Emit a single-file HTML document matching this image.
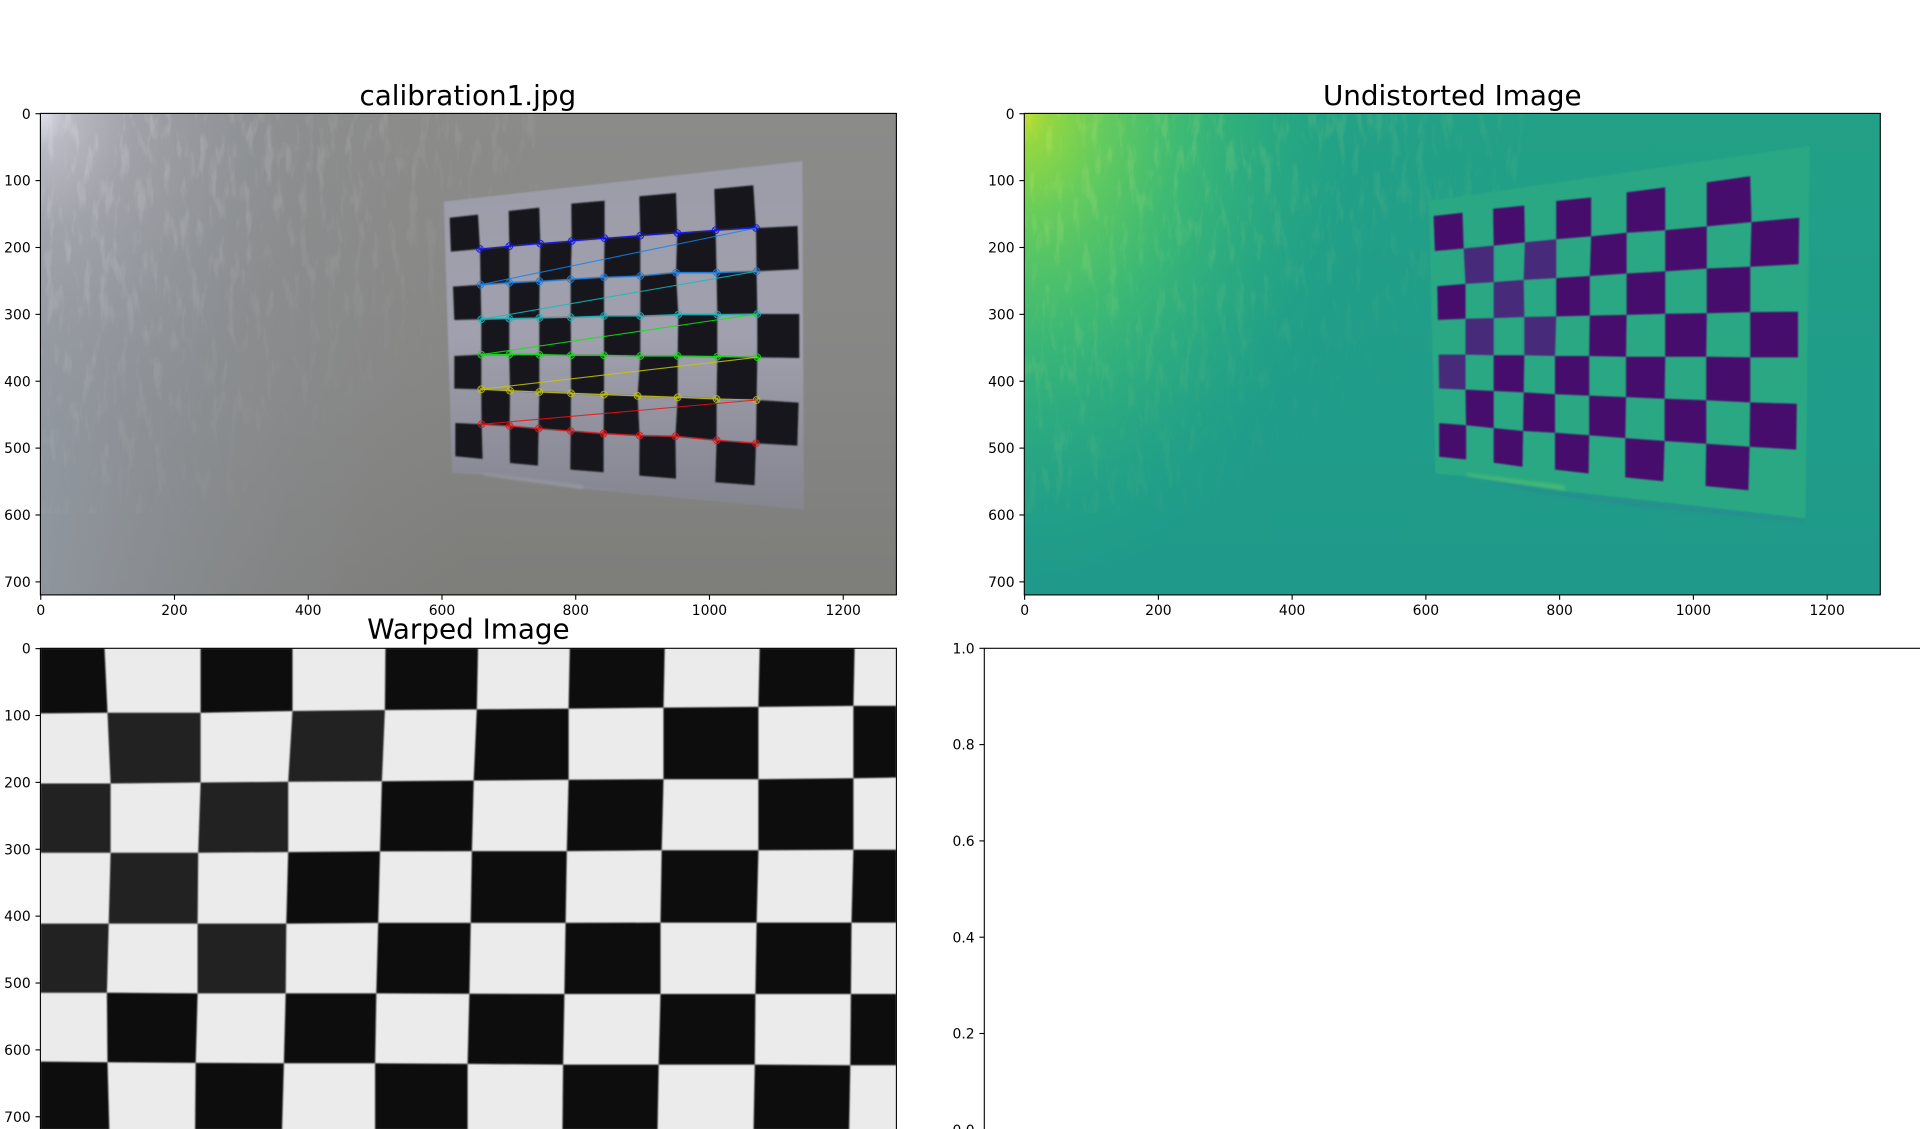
<!DOCTYPE html>
<html lang="en">
<head>
<meta charset="utf-8">
<title>Calibration figure</title>
<style>
html,body{margin:0;padding:0;background:#fff;width:1920px;height:1129px;overflow:hidden}
svg{display:block}
text{font-family:"DejaVu Sans","Liberation Sans",sans-serif;fill:#000}
.tick{font-size:13.9px}
.title{font-size:27.8px;text-anchor:middle}
</style>
</head>
<body>
<svg id="fig" xmlns="http://www.w3.org/2000/svg" width="1920" height="1129" viewBox="0 0 1920 1129">
<defs>
  <clipPath id="clip1"><rect x="40.4" y="113.4" width="856" height="481.5"/></clipPath>
  <clipPath id="clip2"><rect x="1024.3" y="113.4" width="856" height="481.5"/></clipPath>
  <clipPath id="clip3"><rect x="40.4" y="648.3" width="856" height="481.5"/></clipPath>
  <filter id="soft" x="-5%" y="-5%" width="110%" height="110%"><feGaussianBlur stdDeviation="0.8"/></filter>
  <filter id="softer" x="-10%" y="-30%" width="120%" height="160%"><feGaussianBlur stdDeviation="1.6"/></filter>
  <filter id="streaks" x="0" y="0" width="100%" height="100%">
    <feTurbulence type="fractalNoise" baseFrequency="0.11 0.028" numOctaves="3" seed="7"/>
    <feColorMatrix type="matrix" values="0 0 0 0 1  0 0 0 0 1  0 0 0 0 1  4 0 0 0 -2.05"/>
  </filter>
  <filter id="streaks2" x="0" y="0" width="100%" height="100%">
    <feTurbulence type="fractalNoise" baseFrequency="0.11 0.028" numOctaves="3" seed="7"/>
    <feColorMatrix type="matrix" values="0 0 0 0 0.8  0 0 0 0 0.9  0 0 0 0 0.25  4 0 0 0 -2.05"/>
  </filter>
  <radialGradient id="wallGlow1" gradientUnits="userSpaceOnUse" cx="40" cy="113" r="1" gradientTransform="translate(40 113) scale(270 340) translate(-40 -113)">
    <stop offset="0" stop-color="#e2e2ec" stop-opacity="1"/>
    <stop offset="0.1" stop-color="#bcbcc6" stop-opacity="0.95"/>
    <stop offset="0.35" stop-color="#a4a5ac" stop-opacity="0.8"/>
    <stop offset="1" stop-color="#8f9298" stop-opacity="0"/>
  </radialGradient>
  <linearGradient id="wallBase1" x1="0" y1="0" x2="0" y2="1">
    <stop offset="0" stop-color="#8b8b8a"/>
    <stop offset="0.55" stop-color="#868685"/>
    <stop offset="1" stop-color="#7d7d7a"/>
  </linearGradient>
  <linearGradient id="wallLeft1" x1="0" y1="0" x2="1" y2="0">
    <stop offset="0" stop-color="#97a0ad" stop-opacity="0.7"/>
    <stop offset="0.28" stop-color="#8f959c" stop-opacity="0.3"/>
    <stop offset="0.5" stop-color="#8e8e8c" stop-opacity="0"/>
  </linearGradient>
  <linearGradient id="paper1" x1="0" y1="0" x2="0" y2="1">
    <stop offset="0" stop-color="#9c9ca9"/>
    <stop offset="0.5" stop-color="#a0a0ae"/>
    <stop offset="1" stop-color="#858590"/>
  </linearGradient>
  <radialGradient id="wallGlow2" gradientUnits="userSpaceOnUse" cx="1024" cy="113" r="1" gradientTransform="translate(1024 113) scale(340 470) translate(-1024 -113)">
    <stop offset="0" stop-color="#bcdf2c"/>
    <stop offset="0.07" stop-color="#93d741"/>
    <stop offset="0.22" stop-color="#67cc5c"/>
    <stop offset="0.48" stop-color="#40bd72" stop-opacity="0.85"/>
    <stop offset="1" stop-color="#22a884" stop-opacity="0"/>
  </radialGradient>
  <linearGradient id="wallBase2" x1="0" y1="0" x2="0" y2="1">
    <stop offset="0" stop-color="#23a186"/>
    <stop offset="0.6" stop-color="#209c8a"/>
    <stop offset="1" stop-color="#1f9a8a"/>
  </linearGradient>
  <linearGradient id="fadeTL" x1="0" y1="0" x2="1" y2="1">
    <stop offset="0" stop-color="#fff" stop-opacity="0.9"/>
    <stop offset="0.4" stop-color="#fff" stop-opacity="0.4"/>
    <stop offset="0.75" stop-color="#fff" stop-opacity="0"/>
  </linearGradient>
  <mask id="maskStreak1"><rect x="40.4" y="113.4" width="500" height="400" fill="url(#fadeTL)"/></mask>
  <mask id="maskStreak2"><rect x="1024.3" y="113.4" width="500" height="400" fill="url(#fadeTL)"/></mask>
</defs>
<rect x="0" y="0" width="1920" height="1129" fill="#fff"/>

<g>
  <g clip-path="url(#clip1)">
    <rect x="40.4" y="113.4" width="856" height="482" fill="url(#wallBase1)"/>
    <rect x="40.4" y="113.4" width="856" height="482" fill="url(#wallLeft1)"/>
    <rect x="40.4" y="113.4" width="500" height="482" fill="url(#wallGlow1)"/>
    <g mask="url(#maskStreak1)"><rect x="40.4" y="113.4" width="500" height="400" filter="url(#streaks)" opacity="0.2"/></g>
    <g id="art1"></g>
  </g>
  <rect x="40.4" y="113.4" width="856" height="481.5" fill="none" stroke="#000" stroke-width="1.1"/>
  <text class="title" x="467.8" y="104.8">calibration1.jpg</text>
  <g id="ticks1"></g>
</g>

<g>
  <g clip-path="url(#clip2)">
    <rect x="1024.3" y="113.4" width="856" height="482" fill="url(#wallBase2)"/>
    <rect x="1024.3" y="113.4" width="600" height="482" fill="url(#wallGlow2)"/>
    <g mask="url(#maskStreak2)"><rect x="1024.3" y="113.4" width="500" height="400" filter="url(#streaks2)" opacity="0.2"/></g>
    <g id="art2"></g>
  </g>
  <rect x="1024.3" y="113.4" width="856" height="481.5" fill="none" stroke="#000" stroke-width="1.1"/>
  <text class="title" x="1452.3" y="104.8">Undistorted Image</text>
  <g id="ticks2"></g>
</g>

<g>
  <g clip-path="url(#clip3)">
    <rect x="40.4" y="648.3" width="856" height="482" fill="#ebebeb"/>
    <g id="art3"></g>
  </g>
  <rect x="40.4" y="648.3" width="856" height="481.5" fill="none" stroke="#000" stroke-width="1.1"/>
  <text class="title" x="468.4" y="638.6">Warped Image</text>
  <g id="ticks3"></g>
</g>

<g>
  <rect x="984.3" y="648.3" width="1100" height="481.5" fill="none" stroke="#000" stroke-width="1.1"/>
  <g id="ticks4"></g>
</g>
</svg>

<script>
// axis tick values
const imageXTicks = [0, 200, 400, 600, 800, 1000, 1200];
const imageYTicks = [0, 100, 200, 300, 400, 500, 600, 700];
const unitYTicks = [0.0, 0.2, 0.4, 0.6, 0.8, 1.0];

// chessboard vertices of the calibration photo (image coordinates); rows 1-6, cols 1-9 are detected corners
const calibU = [
 [611.5,653.8,699.7,745.5,793.4,843.2,895,949.9,1007.2,1065.5,1130],
 [613.4,656.8,700.7,747,793.9,843.2,896.5,951.9,1009.2,1069.5,1131.8],
 [616.4,657.8,700.7,746,792.4,842.2,896.5,949.9,1010.7,1070.5,1133.3],
 [618.4,658.8,700.7,745.5,792.4,842.2,896.5,953.4,1011.7,1071.5,1134.3],
 [618.4,658.8,700.7,745.5,792.9,842.2,896.5,952.4,1011.7,1071.5,1134.3],
 [618.4,658.8,701.7,745.5,792.9,842.2,892.5,952.4,1010.7,1070.5,1133.3],
 [619.9,659.3,701.2,744.5,792.4,841.7,895.5,949,1010.7,1069.5,1131.3],
 [619.9,660.8,701.7,743.5,791.9,841.7,895,949.9,1008.7,1067.5,1130]
];
const calibV = [
 [155.4,150.9,145.4,140.4,134.4,130,123.5,118.5,112.5,107,100],
 [206.2,202.2,198.2,194.2,190.3,186.3,182.3,178.3,174.3,170.8,167.8],
 [258.5,255.6,252.6,250.6,247.6,244.6,242.6,237.6,237.6,235.6,232.6],
 [308.4,307.4,306.4,305.4,304.4,302.4,302.4,300.4,300.4,299.4,299.4],
 [362.2,360.2,360.2,360.2,361.2,361.2,362.2,362.2,363.2,364.2,365.2],
 [411,412.1,414.1,416.1,418,420,422,424,426.5,428,432],
 [462.4,464.4,466.9,470.9,474.4,478.3,481.3,482.3,488.3,492.8,496.3],
 [512.2,516.2,522.2,526.2,532.2,536.1,541.1,545.6,551.1,555.6,560]
];
const calibPaper = [[602.5,131.4],[1139,70.8],[1141,592],[809.6,561],[663,540],[615.3,537]];
const calibFold = [[660,538],[810,556],[812,561],[664,541]];
const cornerColors = ['#0a0aff','#1282f0','#10bcc0','#0ee80e','#c8c800','#f01010'];

// chessboard vertices of the undistorted image
const undistU = [
 [611.6,654.7,700.5,747.2,794.8,847,900.1,957.8,1020,1085,1150],
 [613.5,656.5,701.4,748.1,794.8,847,900.1,957.8,1020,1086.9,1158.3],
 [617.1,659.2,701.4,746.2,794.8,845.1,900.1,957.8,1020,1085,1157.4],
 [618,659.2,701.4,747.2,794.8,845.1,900.1,957.8,1020,1085,1156.5],
 [619,659.2,701.4,747.2,793,844.2,899.2,957.8,1019.1,1085,1156.5],
 [619.9,659.2,701.4,746.2,793,844.2,899.2,956.9,1019.1,1085,1154.7],
 [619.9,660.2,701.4,745.3,793,844.2,898.2,956.9,1019.1,1084.1,1153.8],
 [619.9,660.2,701.4,744.4,793,843.3,898.2,955,1018.2,1082.3,1150]
];
const undistV = [
 [152.9,148.1,142.2,137.4,130.5,125.2,117.7,110.2,102.7,93.6,93],
 [205.3,201.5,197.2,192.4,187.6,183.4,178,174.3,168.4,162,155.6],
 [258.1,254.4,251.7,248.5,245.8,242.6,238.9,235.7,231.4,228.8,225],
 [308.3,306.7,305.6,304,303,301.9,300.8,299.2,298.2,296.6,296],
 [360.1,360.1,361.2,361.2,362.3,362.3,363.3,363.3,363.3,364.4,364.4],
 [410.8,412.5,414.6,416.7,419.4,421.5,423.7,426.3,428.5,431.7,433.8],
 [462.6,465.8,470.1,474.4,477.1,480.8,485.1,489.3,493.6,497.9,502.2],
 [512.8,517.1,521.9,527.8,532.1,538,543.8,549.7,556.6,563,570]
];
const undistPaper = [[604.3,131],[1173.9,48.3],[1167.5,604.7],[805.8,563.6],[659.3,542.2],[614.4,538]];
const undistFold = [[660,538],[806,556],[810,563],[664,542]];
const undistShadow = [[664,544],[806,566],[1167,606],[1167,611],[900,586],[760,566]];
const undistFaded = ['1,1','1,3','2,2','3,1','3,3','4,0'];

// chessboard vertices of the warped image
const warpU = [
 [-0.5,95.3,239,376.4,515.6,653.8,791.2,933.1,1075.1,1217,1279.5],
 [-0.5,99.8,239,376.4,514.6,652,789.4,931.3,1073.2,1215.2,1279.5],
 [-0.5,104.4,239,370,510.1,647.4,789.4,931.3,1073.2,1215.2,1279.5],
 [-0.5,104.4,235.4,370,507.3,644.7,786.6,928.6,1073.2,1215.2,1279.5],
 [-0.5,101.7,234.5,367.2,504.6,642.9,784.8,926.7,1070.5,1212.4,1279.5],
 [-0.5,98.9,234.5,366.3,501.8,641,783,926.7,1068.7,1211.5,1279.5],
 [-0.5,99.8,231.7,363.6,500,638.3,781.1,924,1067.7,1210.6,1279.5],
 [-0.5,102.6,230.8,360.8,500,638.3,780.2,922.2,1066,1208.8,1279.5]
];
const warpV = [
 [-0.5,-0.5,-0.5,-0.5,-0.5,-0.5,-0.5,-0.5,-0.5,-0.5,-0.5],
 [96.8,95.8,95.8,93.3,91.8,90.8,89.7,88.2,87.2,85.7,85.7],
 [201.7,201.7,200.2,199.2,198.2,197.2,196.2,195.2,195.2,193.7,192.7],
 [305.2,305.2,305.2,304.2,303.2,302.7,302.7,301.6,301.6,300.6,300.6],
 [411.1,411.1,411.1,411.1,410.1,410.1,410.1,409.6,409.6,409.6,409.6],
 [514.5,514.5,515.5,515.5,515.5,516,516.5,516.5,516.5,516.5,516.5],
 [617.5,618.5,619.5,620,620,621,622,622,622,623,623],
 [719.5,719.5,719.5,719.5,719.5,719.5,719.5,719.5,719.5,719.5,719.5]
];
const warpFaded = ['1,1','1,3','2,0','2,2','3,1','4,0','4,2'];

const SVG_NS = 'http://www.w3.org/2000/svg';
const SCALE = 856 / 1280;
const AXES = {
  calib: {left: 40.4, top: 113.4},
  undist: {left: 1024.3, top: 113.4},
  warp: {left: 40.4, top: 648.3},
  empty: {left: 984.3, top: 648.3}
};
function xPos(ax, u) { return ax.left + (u + 0.5) * SCALE; }
function yPos(ax, v) { return ax.top + (v + 0.5) * SCALE; }
function unitY(ax, t) { return ax.top + (1 - t) * 481.5; }

function make(tag, parent) {
  const el = document.createElementNS(SVG_NS, tag);
  parent.appendChild(el);
  return el;
}
function polyPoints(ax, pts) {
  return pts.map(function (p) { return xPos(ax, p[0]).toFixed(1) + ',' + yPos(ax, p[1]).toFixed(1); }).join(' ');
}
function drawPaper(parent, ax, pts, fill) {
  const el = make('polygon', parent);
  
  
  el.setAttribute('points', polyPoints(ax, pts));
  el.setAttribute('fill', fill);
  el.setAttribute('filter', 'url(#soft)');
}
function drawPatch(parent, ax, pts, fill, opacity) {
  const el = make('polygon', parent);
  
  
  el.setAttribute('points', polyPoints(ax, pts));
  el.setAttribute('fill', fill);
  el.setAttribute('fill-opacity', opacity);
  el.setAttribute('filter', 'url(#softer)');
}
function drawSquares(parent, ax, U, V, colorFor) {
  const g = make('g', parent);
  
  
  g.setAttribute('filter', 'url(#soft)');
  for (let r = 0; r < U.length - 1; r++) {
    for (let c = 0; c < U[r].length - 1; c++) {
      if ((r + c) % 2 !== 0) continue;
      const sq = make('polygon', g);
      
      
      sq.setAttribute('points', polyPoints(ax, [
        [U[r][c], V[r][c]], [U[r][c + 1], V[r][c + 1]],
        [U[r + 1][c + 1], V[r + 1][c + 1]], [U[r + 1][c], V[r + 1][c]]
      ]));
      sq.setAttribute('fill', colorFor(r, c));
    }
  }
}
function drawCorners(parent, ax, U, V) {
  const g = make('g', parent);
  
  
  let prev = null;
  for (let r = 1; r <= 6; r++) {
    const color = cornerColors[r - 1];
    const pts = [];
    if (prev) pts.push(prev);
    for (let c = 1; c <= 9; c++) pts.push([U[r][c], V[r][c]]);
    const line = make('polyline', g);
    
    
    line.setAttribute('points', polyPoints(ax, pts));
    line.setAttribute('fill', 'none');
    line.setAttribute('stroke', color);
    line.setAttribute('stroke-width', '1.1');
    line.setAttribute('stroke-opacity', '0.85');
    for (let c = 1; c <= 9; c++) {
      const cx = xPos(ax, U[r][c]);
      const cy = yPos(ax, V[r][c]);
      const dot = make('circle', g);
      
      
      dot.setAttribute('cx', cx.toFixed(1));
      dot.setAttribute('cy', cy.toFixed(1));
      dot.setAttribute('r', '3.4');
      dot.setAttribute('fill', 'none');
      dot.setAttribute('stroke', color);
      dot.setAttribute('stroke-width', '1');
      dot.setAttribute('stroke-opacity', '0.8');
      const cross = make('path', g);
      
      
      cross.setAttribute('d', 'M' + (cx - 2.2) + ' ' + (cy - 2.2) + 'L' + (cx + 2.2) + ' ' + (cy + 2.2) + 'M' + (cx - 2.2) + ' ' + (cy + 2.2) + 'L' + (cx + 2.2) + ' ' + (cy - 2.2));
      cross.setAttribute('stroke', color);
      cross.setAttribute('stroke-width', '0.8');
      cross.setAttribute('stroke-opacity', '0.8');
    }
    prev = [U[r][9], V[r][9]];
  }
}
function drawTick(parent, x1, y1, x2, y2) {
  const t = make('line', parent);
  
  
  t.setAttribute('x1', x1);
  t.setAttribute('y1', y1);
  t.setAttribute('x2', x2);
  t.setAttribute('y2', y2);
  t.setAttribute('stroke', '#000');
  t.setAttribute('stroke-width', '1.1');
}
function drawLabel(parent, x, y, anchor, str) {
  const l = make('text', parent);
  
  
  l.setAttribute('class', 'tick');
  l.setAttribute('x', x);
  l.setAttribute('y', y);
  l.setAttribute('text-anchor', anchor);
  l.textContent = str;
}
function imageTicks(parent, ax, withX) {
  imageYTicks.forEach(function (v) {
    const y = yPos(ax, v);
    drawTick(parent, ax.left, y, ax.left - 4.9, y);
    drawLabel(parent, ax.left - 9.7, y + 5.1, 'end', String(v));
  });
  if (withX) {
    imageXTicks.forEach(function (u) {
      const x = xPos(ax, u);
      const base = ax.top + 481.5;
      drawTick(parent, x, base, x, base + 4.9);
      drawLabel(parent, x, base + 19.9, 'middle', String(u));
    });
  }
}

// calibration photo
const art1 = document.getElementById('art1');
drawPaper(art1, AXES.calib, calibPaper, 'url(#paper1)');
drawPatch(art1, AXES.calib, calibFold, '#b4b4c0', '0.4');
drawSquares(art1, AXES.calib, calibU, calibV, function () { return '#17151d'; });
drawCorners(art1, AXES.calib, calibU, calibV);

// undistorted viridis image
const art2 = document.getElementById('art2');
drawPatch(art2, AXES.undist, undistShadow, '#2a8a8e', '0.7');
drawPaper(art2, AXES.undist, undistPaper, '#29a883');
drawPatch(art2, AXES.undist, undistFold, '#52bc73', '0.9');
drawSquares(art2, AXES.undist, undistU, undistV, function (r, c) {
  return undistFaded.indexOf(r + ',' + c) >= 0 ? '#472a7a' : '#470f6c';
});

// warped grayscale image
const art3 = document.getElementById('art3');
drawSquares(art3, AXES.warp, warpU, warpV, function (r, c) {
  return warpFaded.indexOf(r + ',' + c) >= 0 ? '#212121' : '#0e0e0e';
});

imageTicks(document.getElementById('ticks1'), AXES.calib, true);
imageTicks(document.getElementById('ticks2'), AXES.undist, true);
imageTicks(document.getElementById('ticks3'), AXES.warp, false);

const ticks4 = document.getElementById('ticks4');
unitYTicks.forEach(function (t) {
  const y = unitY(AXES.empty, t);
  drawTick(ticks4, AXES.empty.left, y, AXES.empty.left - 4.9, y);
  drawLabel(ticks4, AXES.empty.left - 9.7, y + 5.1, 'end', t.toFixed(1));
});
</script>
</body>
</html>
